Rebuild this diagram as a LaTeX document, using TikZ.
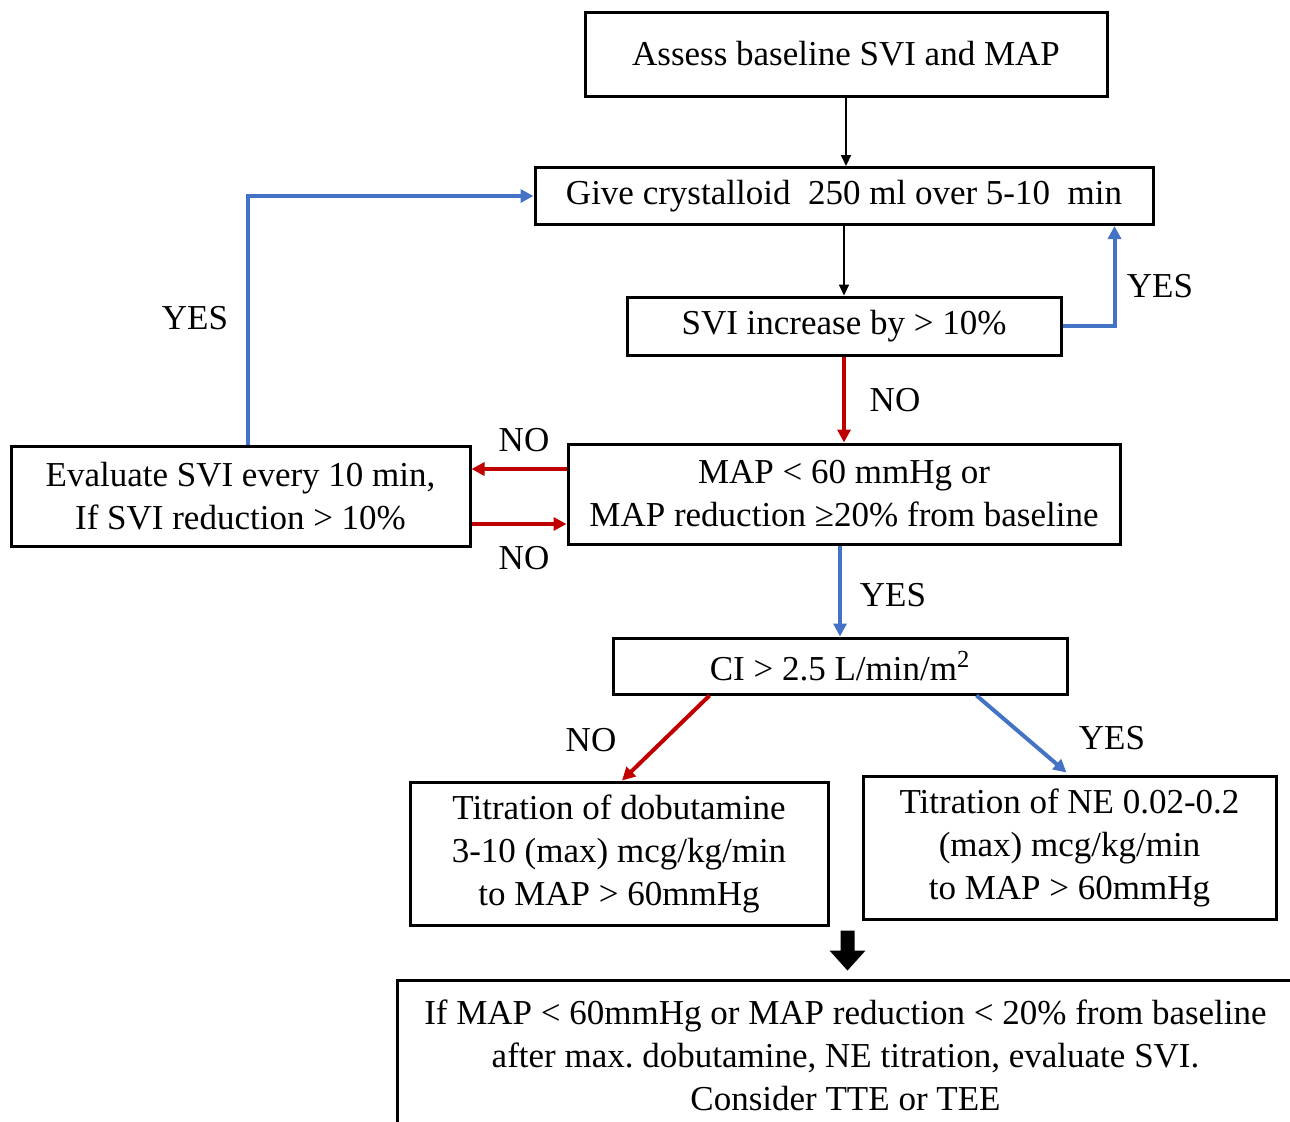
\documentclass[tikz,border=0pt]{standalone}
\usepackage{fontspec}
\setmainfont{Liberation Serif}
\usepackage{tikz}
\usetikzlibrary{arrows.meta, positioning, calc}
\definecolor{flowred}{RGB}{192,0,0}
\definecolor{flowblue}{RGB}{68,114,196}
\frenchspacing

\begin{document}
\begin{tikzpicture}[
      x=0.5pt, y=-0.5pt,
      box/.style={draw, line width=1.5pt, align=center, inner sep=0pt, font=\fontsize{17.5}{21.5}\selectfont},
      lbl/.style={font=\fontsize{17.5}{21.5}\selectfont},
      blk/.style={draw=black, line width=1pt, -{Triangle[length=5.5pt, width=5pt]}},
      nogo/.style={draw=flowred, line width=2pt, -{Triangle[length=6.5pt, width=6.5pt]}},
      yesgo/.style={draw=flowblue, line width=2pt, -{Triangle[length=6.5pt, width=6.5pt]}}
    ]
      \useasboundingbox (0,0) rectangle (1290,1121);
      \clip (0,0) rectangle (1290,1121);

      \node[box, minimum width=261pt, minimum height=42pt] (assess) at (846,54) {Assess baseline SVI and MAP};
      \node[box, minimum width=309pt, minimum height=28.5pt] (give) at (844,196) {Give crystalloid\ \ 250 ml over 5-10\ \ min};
      \node[box, minimum width=217pt, minimum height=29pt] (svi) at (844,326) {SVI increase by > 10\%};
      \node[box, minimum width=276pt, minimum height=50pt] (map) at (844,494) {MAP < 60 mmHg or\\MAP reduction ≥20\% from baseline};
      \node[box, minimum width=229.5pt, minimum height=50pt] (eval) at (240.5,496) {Evaluate SVI every 10 min,\\If SVI reduction > 10\%};
      \node[box, minimum width=227pt, minimum height=28pt] (ci) at (840,666) {CI > 2.5 L/min/m\textsuperscript{2}};
      \node[box, minimum width=209pt, minimum height=71.5pt] (dobu) at (619,853.5) {Titration of dobutamine\\3-10 (max) mcg/kg/min\\to MAP > 60mmHg};
      \node[box, minimum width=206.5pt, minimum height=71.5pt] (ne) at (1069.5,847.5) {Titration of NE 0.02-0.2\\(max) mcg/kg/min\\to MAP > 60mmHg};
      \node[box, minimum width=448.5pt, minimum height=75pt] (final) at (845.5,1055) {If MAP < 60mmHg or MAP reduction < 20\% from baseline\\after max. dobutamine, NE titration, evaluate SVI.\\Consider TTE or TEE};

      % connectors
      \draw[blk] (assess.south) -- (assess.south |- give.north);
      \draw[blk] (give.south |- svi.north) ++(0,-73) -- (svi.north);
      \draw[yesgo] (svi.east) -| ($(give.south east)+(-40,0)$);
      \draw[nogo] (svi.south) -- (map.north);
      \draw[yesgo] ($(eval.north)+(7.5,0)$) |- (give.west);
      \draw[nogo] ($(map.west)+(0,-25)$) -- ($(eval.east)+(0,-27)$);
      \draw[nogo] ($(eval.east)+(0,28)$) -- ($(map.west)+(0,30)$);
      \draw[yesgo] (map.south -| ci.north) -- (ci.north);
      \draw[nogo] ($(ci.south west)+(98,0)$) -- ($(dobu.north)+(3,0)$);
      \draw[yesgo] ($(ci.south east)+(-92,0)$) -- ($(ne.north)+(-3,-2)$);

      % block arrow down to the last box
      \fill ($(final.north)+(-5,-48)$) -- ++(14,0) -- ++(0,20) -- ++(11,0) -- ++(-18,20) -- ++(-18,-20) -- ++(11,0) -- cycle;

      \node[lbl] (yes1) at (1160,286) {YES};
      \node[lbl] (no1) at (895,400) {NO};
      \node[lbl] (yes2) at (195,318) {YES};
      \node[lbl] (no2) at (524,440) {NO};
      \node[lbl] (no3) at (524,558) {NO};
      \node[lbl] (yes3) at (893,595) {YES};
      \node[lbl] (no4) at (591,740) {NO};
      \node[lbl] (yes4) at (1112,738) {YES};
    \end{tikzpicture}
\end{document}
